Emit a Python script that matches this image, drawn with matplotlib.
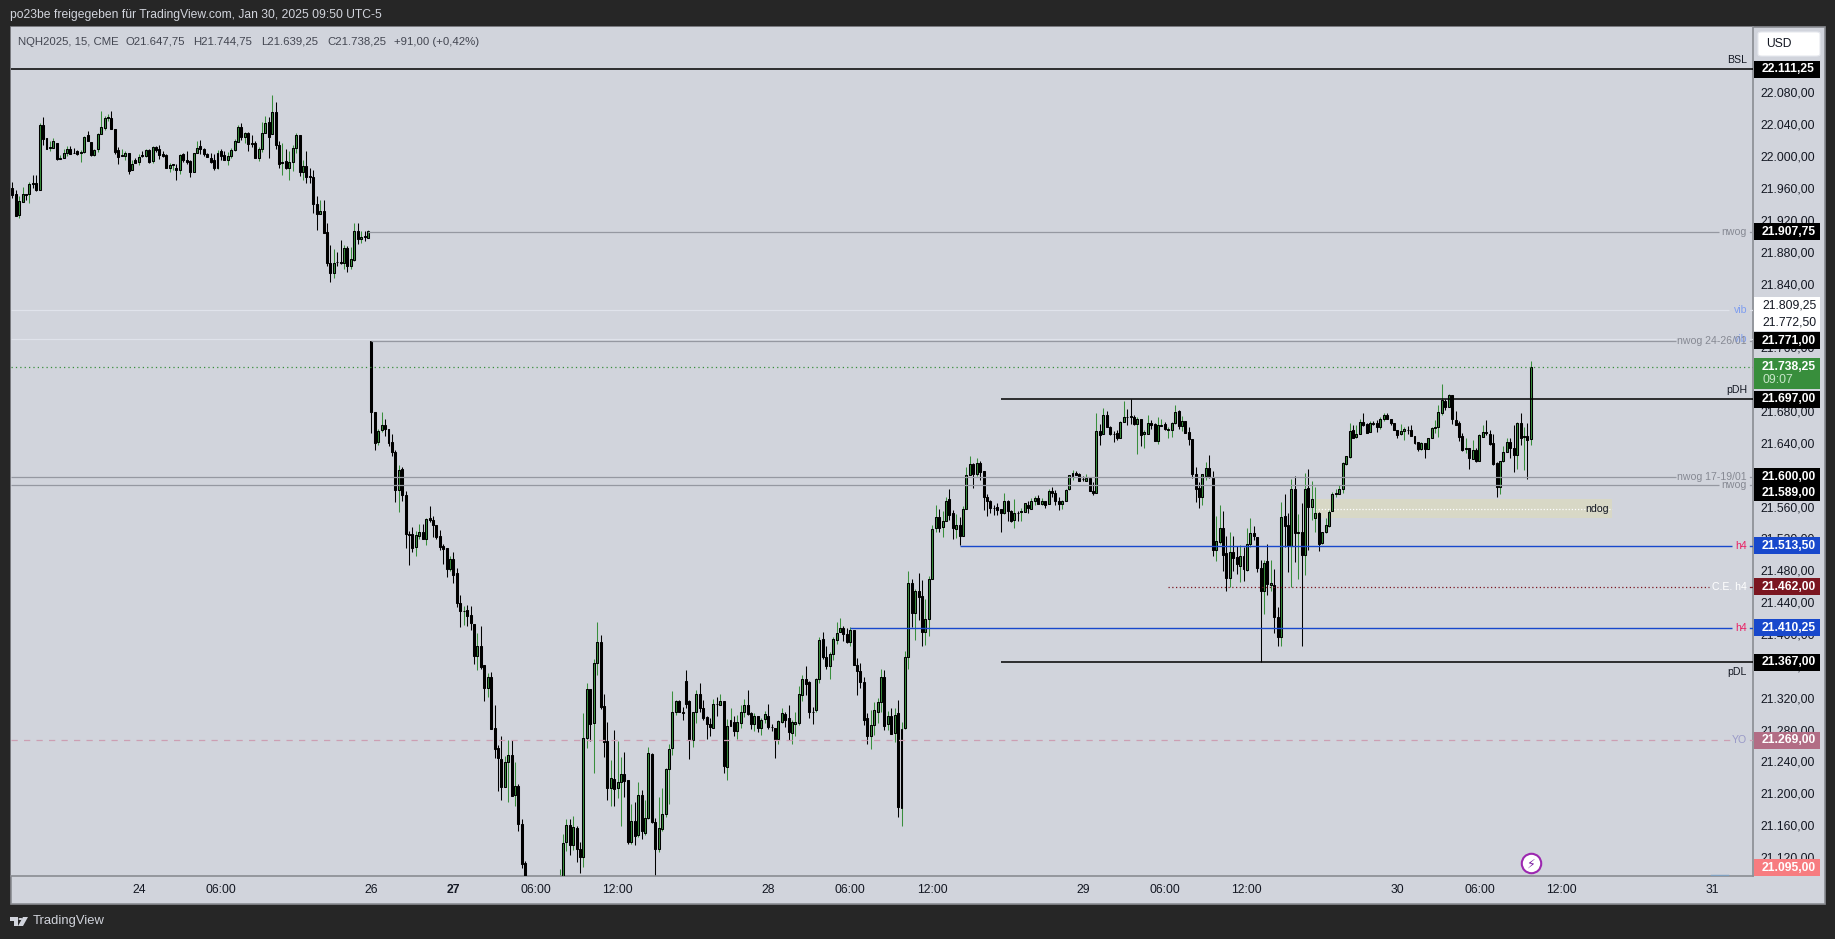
import matplotlib
matplotlib.use('Agg')
import matplotlib.pyplot as plt
from matplotlib.patches import Rectangle, FancyBboxPatch, Polygon, Circle
from matplotlib.transforms import ScaledTranslation
import numpy as np

plt.rcParams['font.family'] = ['Liberation Sans', 'DejaVu Sans']

# Sesion del 24 (NQH2025, velas de 15 min)
opens_a = [21963,21955,21928,21945,21955,21955,21969,21969,21960,22042,
22025,22013,22013,22019,21999,22000,22007,22011,22007,22009,
22006,22008,22029,22020,22004,22011,22030,22038,22050,22050,
22037,22010,22003,22003,22007,21985,21997,21995,22004,22003,
22010,21996,22014,22011,22005,22004,21988,21991,21988,21985,
22005,21997,21996,21983,22006,
22015,22011,22005,22000,21998,21988,22009,22004,21998,22003,
22010,22020,22039,22027,22031,22019,22019,22000,22011,22032,
22045,22030,22058,22017,21994,21996,21987,21995,22013,22029,
21983,21990,21977,21976,21942,21930,21934,21907,21868,21856,
21869,21869,21868,21887,21864,21872,21908,21899,21902,21900]
highs_a = [21970,21960,21952,21964,21955,21970,21979,21979,22044,22051,
22025,22021,22025,22019,22004,22012,22015,22015,22013,22010,
22010,22028,22034,22020,22012,22031,22059,22053,22055,22059,
22037,22014,22011,22009,22007,21998,22000,22005,22009,22011,
22011,22015,22015,22016,22009,22005,21994,21993,21993,22005,
22006,22009,21998,22007,22021,
22023,22013,22006,22006,22005,22010,22012,22009,22008,22013,
22024,22042,22044,22033,22033,22029,22021,22014,22045,22053,
22052,22079,22070,22021,22019,22011,22009,22016,22032,22029,
21998,22009,21988,21985,21953,21948,21948,21918,21891,21886,
21882,21897,21891,21890,21888,21919,21919,21908,21908,21910]
lows_a = [21950,21927,21925,21945,21947,21944,21962,21959,21960,22016,
22012,22009,22013,21997,21999,22000,22003,22005,22006,22004,
21995,22006,22021,22003,22003,22008,22030,22035,22047,22037,
22005,21992,22003,21998,21980,21985,21994,21991,22002,22002,
21994,21994,22008,21999,22001,21988,21983,21985,21973,21980,
21995,21993,21976,21982,22006,
22005,22003,22001,21994,21985,21986,21997,21997,21991,22000,
22009,22020,22023,22019,22009,22014,22000,21996,22008,22032,
22000,22030,22011,21988,21979,21986,21972,21984,22006,21977,
21973,21969,21969,21931,21910,21930,21906,21864,21845,21849,
21864,21867,21861,21857,21861,21871,21892,21894,21896,21900]
closes_a = [21954,21927,21946,21955,21954,21968,21968,21960,22042,22024,
22012,22014,22022,21999,22000,22007,22011,22005,22007,22005,
22008,22027,22021,22004,22010,22030,22039,22050,22051,22037,
22008,22002,22004,22007,21984,21993,21994,22002,22003,22010,
21995,22014,22010,22004,22003,21988,21991,21992,21985,22004,
21997,21995,21983,22006,22013,
22011,22005,22001,21995,21988,22007,22003,21998,22003,22010,
22021,22039,22027,22032,22018,22018,22000,22011,22032,22044,
22027,22058,22017,21993,21995,21987,21995,22013,22029,21983,
21990,21976,21976,21942,21930,21934,21906,21868,21856,21868,
21869,21868,21887,21864,21873,21908,21899,21901,21901,21908]

# Sesion 26-27 (incluye las velas que quedan bajo el borde inferior)
opens_b = [21771,21681,21643,21659,21665,21660,21643,21631,21583,21610,
21577,21528,21528,21512,21526,21530,21522,21548,21546,21540,
21525,21513,21511,21484,21497,21479,21442,21431,21433,21427,
21415,21375,21388,21363,21335,21348,21285,21260,21246,21211,
21242,21250,21200,21212,21164,21115,
21070,21060,21050,21055,21048,21052,21060,21058,21065,
21070,21085,21141,21163,21138,21159,21133,21122,21272,21334,
21291,21366,21393,21312,21268,21209,21220,21209,21217,21227,
21219,21141]
highs_b = [21771,21681,21660,21681,21673,21660,21653,21633,21615,21612,
21582,21532,21537,21532,21541,21541,21548,21563,21551,21540,
21533,21516,21511,21500,21506,21486,21452,21438,21439,21438,
21415,21404,21412,21363,21354,21355,21313,21263,21275,21249,
21269,21269,21242,21214,21170,21118,
21085,21075,21065,21070,21060,21070,21075,21072,21080,
21107,21152,21170,21170,21174,21161,21142,21303,21341,21334,
21371,21418,21401,21327,21292,21244,21282,21268,21248,21255,
21219,21189]
lows_b = [21655,21634,21640,21656,21651,21639,21626,21568,21556,21569,
21511,21489,21506,21500,21522,21522,21514,21543,21524,21522,
21508,21490,21474,21482,21466,21437,21411,21414,21412,21408,
21365,21357,21359,21318,21324,21283,21247,21205,21194,21210,
21191,21199,21186,21155,21109,21060,
21055,21045,21040,21045,21040,21045,21050,21050,21055,
21060,21080,21130,21125,21131,21116,21103,21110,21260,21268,
21228,21351,21308,21248,21194,21187,21186,21197,21162,21198,
21139,21139]
closes_b = [21681,21642,21658,21665,21660,21642,21631,21583,21609,21577,
21528,21527,21510,21527,21531,21522,21547,21546,21539,21524,
21512,21509,21484,21497,21477,21441,21431,21432,21425,21416,
21375,21388,21361,21335,21348,21283,21258,21247,21211,21242,
21251,21199,21212,21164,21114,21070,
21060,21050,21055,21048,21052,21060,21058,21065,21070,
21085,21140,21163,21138,21160,21132,21122,21272,21334,21290,
21366,21393,21311,21267,21209,21222,21208,21217,21227,21218,
21141,21168]

# Sesion 27-28
opens_c = [21168,21150,21201,21153,21172,21252,21167,21133,21158,21177,
21233,21259,21304,21318,21304,21344,21318,21269,21305,21327,
21309,21298,21290,21285,21315,21313,21318,21236,21287,21292,
21281,21291,21305,21314,21303,21289,21299,21285,21296,21300,
21286,21284,21271,21292,21302,21297,21278,21289,21291,21326,
21346,21342,21305,21307,21346,21396,21374,21362,21377,21395,
21405,21410,21403,21392,21407,21363,21356,21342,21297,21274,
21288,21305,21317,21349,21289,21300,21278,21303,21184,21285]
highs_c = [21192,21217,21207,21194,21261,21253,21171,21198,21209,21234,
21265,21331,21320,21320,21311,21357,21320,21305,21332,21341,
21320,21300,21297,21321,21323,21327,21318,21296,21310,21300,
21301,21314,21321,21332,21305,21303,21300,21297,21306,21315,
21289,21284,21295,21310,21305,21313,21295,21305,21337,21351,
21362,21343,21311,21347,21399,21405,21387,21380,21399,21418,
21423,21412,21410,21411,21408,21373,21366,21348,21303,21307,
21317,21322,21358,21357,21306,21310,21310,21320,21292,21381]
lows_c = [21138,21148,21145,21150,21170,21165,21098,21129,21155,21173,
21189,21251,21301,21304,21294,21309,21246,21261,21291,21304,
21294,21271,21274,21285,21300,21313,21228,21219,21287,21274,
21271,21285,21298,21301,21283,21281,21279,21276,21291,21283,
21281,21247,21265,21291,21286,21270,21264,21274,21288,21318,
21326,21297,21289,21305,21341,21371,21359,21346,21370,21390,
21405,21394,21391,21387,21363,21326,21335,21288,21264,21258,
21276,21291,21304,21282,21282,21277,21267,21173,21161,21283]
closes_c = [21149,21201,21155,21172,21253,21167,21133,21159,21177,21233,
21258,21304,21318,21304,21303,21315,21269,21305,21327,21309,
21297,21289,21286,21315,21315,21319,21237,21287,21294,21281,
21292,21305,21314,21302,21290,21300,21285,21295,21302,21286,
21286,21270,21293,21303,21295,21279,21292,21292,21327,21346,
21340,21304,21304,21346,21395,21374,21362,21377,21396,21404,
21410,21403,21392,21408,21363,21356,21342,21295,21275,21288,
21307,21317,21349,21287,21300,21277,21301,21185,21283,21374]

# Sesion 28-29
opens_d = [21374,21467,21429,21456,21450,21405,21421,21472,21535,21550,
21537,21545,21572,21554,21534,21540,21526,21559,21602,21616,
21604,21617,21607,21575,21570,21561,21562,21559,21554,21570,
21557,21546,21555,21556,21556,21565,21560,21570,21573,21566,
21569,21566,21582,21579,21570,21566,21570,21584,21601,21605,
21604,21597,21595,21599,21582,21580,21657,21654,21677,21663,
21654,21655,21648,21669,21675,21676,21675,21666,21672,21653,
21654,21668,21666,21645,21664,21666,21659,21659,21667,21682,
21664,21670,21656,21647,21603,21586,21575,21601,21611,21599,
21508]
highs_d = [21481,21472,21459,21479,21470,21447,21475,21540,21564,21560,
21557,21574,21585,21558,21553,21550,21563,21612,21626,21617,
21623,21620,21607,21578,21571,21564,21567,21559,21580,21571,
21558,21572,21557,21561,21567,21569,21573,21576,21577,21573,
21569,21584,21587,21583,21574,21571,21585,21602,21609,21607,
21605,21601,21603,21599,21593,21680,21666,21686,21682,21664,
21657,21659,21670,21695,21685,21697,21677,21675,21673,21659,
21678,21671,21667,21675,21672,21669,21662,21669,21690,21684,
21676,21670,21662,21647,21612,21593,21604,21619,21627,21607,
21551]
lows_d = [21359,21411,21395,21420,21387,21389,21400,21472,21531,21531,
21524,21545,21546,21522,21523,21514,21526,21559,21602,21586,
21601,21596,21558,21551,21555,21552,21552,21531,21553,21545,
21543,21536,21544,21544,21556,21555,21560,21564,21566,21564,
21561,21566,21575,21564,21558,21560,21570,21583,21596,21602,
21595,21594,21595,21582,21577,21580,21640,21653,21662,21652,
21643,21646,21648,21669,21665,21666,21665,21629,21639,21636,
21654,21660,21645,21641,21664,21659,21648,21650,21666,21660,
21657,21655,21640,21598,21568,21561,21564,21596,21598,21500,
21494]
closes_d = [21467,21429,21456,21449,21405,21421,21472,21534,21549,21536,
21545,21570,21552,21535,21540,21526,21559,21602,21616,21603,
21617,21606,21575,21570,21561,21561,21558,21554,21570,21557,
21545,21554,21555,21557,21567,21561,21570,21573,21566,21569,
21565,21582,21579,21570,21566,21569,21583,21602,21605,21602,
21595,21597,21599,21582,21580,21657,21652,21678,21663,21653,
21654,21649,21669,21675,21675,21675,21666,21673,21652,21656,
21668,21665,21645,21665,21665,21660,21660,21667,21681,21664,
21670,21655,21647,21603,21585,21575,21603,21611,21600,21508,
21519]

# Sesion 29-30
opens_e = [21518,21536,21504,21473,21506,21499,21488,21500,21483,21515,
21529,21524,21485,21457,21494,21464,21464,21424,21399,21551,
21539,21513,21585,21529,21531,21502,21586,21562,21548,21554,
21517,21530,21538,21557,21578,21578,21584,21616,21625,21659,
21650,21654,21669,21666,21656,21668,21667,21663,21673,21678,
21672,21667,21659,21653,21657,21659,21659,21651,21643,21635,
21642,21635,21649,21661,21662,21680,21695,21688,21702,21671,
21668,21651,21635,21636,21622,21633,21620,21650,21656,21654,
21642,21617,21587,21620,21631,21644,21636,21627,21668,21650,
21651,21647.75]
highs_e = [21564,21557,21525,21531,21525,21513,21514,21512,21536,21548,
21538,21524,21495,21495,21516,21495,21484,21437,21568,21578,
21555,21597,21601,21553,21567,21605,21610,21595,21587,21556,
21531,21548,21558,21581,21585,21589,21618,21626,21667,21665,
21665,21673,21680,21667,21670,21670,21671,21675,21680,21680,
21672,21667,21659,21666,21662,21664,21665,21651,21643,21643,
21642,21649,21662,21671,21690,21716,21698,21704,21703,21682,
21670,21655,21648,21636,21646,21636,21654,21665,21671,21659,
21654,21618,21620,21638,21648,21649,21665,21669,21680,21663,
21668,21744.75]
lows_e = [21515,21481,21457,21461,21481,21478,21468,21469,21481,21512,
21520,21480,21367,21428,21451,21457,21404,21387,21387,21512,
21480,21462,21493,21472,21388,21477,21508,21546,21531,21507,
21516,21529,21537,21557,21574,21578,21580,21615,21623,21648,
21649,21654,21664,21655,21656,21665,21656,21660,21670,21672,
21665,21659,21649,21652,21646,21654,21651,21641,21632,21633,
21623,21635,21648,21655,21650,21677,21684,21688,21666,21665,
21645,21632,21630,21610,21622,21619,21620,21650,21652,21640,
21615,21574,21578,21619,21631,21624,21606,21610,21640,21608,
21597,21639.25]
closes_e = [21536,21502,21473,21506,21498,21490,21500,21484,21515,21529,
21525,21485,21457,21492,21465,21467,21424,21399,21550,21538,
21513,21584,21529,21530,21502,21585,21562,21572,21554,21516,
21530,21539,21556,21578,21579,21585,21617,21626,21658,21649,
21654,21669,21665,21655,21668,21666,21662,21673,21678,21672,
21667,21659,21652,21657,21660,21659,21651,21642,21635,21642,
21635,21649,21661,21662,21681,21696,21687,21702,21672,21665,
21650,21633,21636,21623,21633,21620,21652,21656,21655,21641,
21616,21587,21620,21631,21643,21636,21627,21668,21649,21651,
21646,21738.25]

tick_prices = [21120,21160,21200,21240,21280,21320,21360,21400,21440,21480,21520,21560,
               21600,21640,21680,21720,21760,21800,21840,21880,21920,21960,22000,22040,22080]
time_ticks = [37,61,105,129,153,177,221,245,269,313,337,361,405,429,453,497]
time_labels = ['24','06:00','26','27','06:00','12:00','28','06:00','12:00','29','06:00','12:00','30','06:00','12:00','31']

# Niveles: precio real y precio donde se dibuja la etiqueta del eje
level_prices = [22111.25,21907.75,21809.25,21772.50,21771.00,21738.25,21697.00,21600.00,
                21589.00,21513.50,21462.00,21410.25,21367.00,21269.00,21095.00]
level_shown = [22111.25,21907.75,21814.7,21793.4,21771.00,21738.25,21697.00,21600.00,
               21580.0,21513.50,21462.00,21410.25,21367.00,21269.00,21108.9]
level_box = ['black','black','white','white','black','#388e3c','black','black',
             'black','#1848cc','#7b1620','#1848cc','black','#b26d85','#f77c80']

W, H = 1835, 939
BG = '#262626'
PANEL = '#d1d4dc'
EDGE = '#8a8c92'
TXT = '#131722'
PT_PX = 1.2555   # puntos de precio por pixel


def px(x):
    # pixel horizontal de la imagen -> indice de vela
    return (x - 12.3) / 3.42


def fmt(v):
    return f'{v:,.2f}'.replace(',', 'X').replace('.', ',').replace('X', '.')


fig = plt.figure(figsize=(W / 100, H / 100), dpi=100, facecolor=BG)
fig.add_artist(Rectangle((10.5 / W, 1 - 904 / H), 1814.5 / W, 877 / H, transform=fig.transFigure,
                         facecolor=PANEL, edgecolor=EDGE, linewidth=1.2, zorder=-1))

ax = fig.add_axes([11 / W, 1 - 876 / H, 1742 / W, 849 / H], facecolor=PANEL)
ax.set_xlim(px(11), px(1753))
ax.set_ylim(21098.7, 22164.6)
for s in ['top', 'left']:
    ax.spines[s].set_visible(False)
for s in ['bottom', 'right']:
    ax.spines[s].set_color(EDGE)
    ax.spines[s].set_linewidth(1.2)

opens = np.array(opens_a + opens_b + opens_c + opens_d + opens_e)
highs = np.array(highs_a + highs_b + highs_c + highs_d + highs_e)
lows = np.array(lows_a + lows_b + lows_c + lows_d + lows_e)
closes = np.array(closes_a + closes_b + closes_c + closes_d + closes_e)
x = np.arange(len(opens))
up = closes > opens

# Velas
ax.vlines(x[up], lows[up], highs[up], color='#388e3c', linewidth=0.75, zorder=2)
ax.vlines(x[~up], lows[~up], highs[~up], color='black', linewidth=0.75, zorder=2)
bottoms = np.minimum(opens, closes)
sizes = np.abs(closes - opens)
ax.bar(x[up], sizes[up], bottom=bottoms[up], width=0.58, color='#388e3c', edgecolor='black', linewidth=0.75, zorder=3)
ax.bar(x[~up], sizes[~up], bottom=bottoms[~up], width=0.58, color='black', edgecolor='black', linewidth=0.75, zorder=3)

# Caja ndog
ax.add_patch(Rectangle((px(1315), 21548), px(1612) - px(1315), 24, facecolor='#d8d8c6', edgecolor='none', zorder=1))
ax.plot([px(1315), px(1612)], [21560, 21560], color='white', linestyle=(0, (1, 1.5)), linewidth=0.9, zorder=1.5)
ax.text(px(1609), 21560, 'ndog', ha='right', va='center', fontsize=7.6, color=TXT, zorder=5)

# Lineas de nivel
end = px(1753)
right_label = px(1747)
gray = '#9598a1'


def nivel(price, x0, x1, color, lw=1.0, ls='-', label=None, lcolor=None, above=None):
    ax.plot([x0, x1], [price, price], color=color, linewidth=lw, linestyle=ls, zorder=4, solid_capstyle='butt')
    if label:
        if above is None:
            ax.text(right_label, price, label, ha='right', va='center', fontsize=7.6, color=lcolor, zorder=5)
            ax.plot([px(1750), end], [price, price], color=color, linewidth=lw, zorder=4)
        else:
            off = 9 * PT_PX if above else -10 * PT_PX
            ax.text(right_label, price + off, label, ha='right', va='center', fontsize=7.6, color=lcolor, zorder=5)


nivel(22111.25, px(11), end, 'black', 1.1, label='BSL', lcolor=TXT, above=True)
nivel(21907.75, 104, px(1719), gray, 0.9, label='nwog', lcolor='#868993')
nivel(21809.25, px(11), px(1729), '#e0e3eb', 0.9, label='vib', lcolor='#7f9ef0')
nivel(21772.50, px(11), px(1676), '#e0e3eb', 0.9, label='vib', lcolor='#7f9ef0')
nivel(21771.00, 105, px(1676), gray, 0.9, label='nwog 24-26/01', lcolor='#868993')
ax.plot([px(11), end], [21738.25, 21738.25], color='#388e3c', linestyle=(0, (1, 2.5)), linewidth=0.9, zorder=4)
nivel(21697.00, px(1000.5), end, 'black', 1.1, label='pDH', lcolor=TXT, above=True)
nivel(21600.00, px(11), px(1676), gray, 0.9, label='nwog 17-19/01', lcolor='#868993')
nivel(21589.00, px(11), px(1719), gray, 0.9, label='nwog', lcolor='#868993')
nivel(21513.50, px(959.5), px(1732), '#1848cc', 1.0, label='h4', lcolor='#e91e63')
nivel(21462.00, px(1168), px(1709), '#7b1620', 0.9, ls=(0, (1, 2)), label='C.E. h4', lcolor='white')
nivel(21410.25, px(850), px(1732), '#1848cc', 1.0, label='h4', lcolor='#e91e63')
nivel(21367.00, px(1000.5), end, 'black', 1.1, label='pDL', lcolor=TXT, above=False)
nivel(21269.00, px(11), px(1730), '#cc9fb3', 0.9, ls=(0, (5, 5)), label='YO', lcolor='#9a9ac8')
ax.plot([px(1711), px(1728)], [21099.5, 21099.5], color='#7fa0c0', linewidth=1, zorder=4)

# Ejes con sus etiquetas
ax.yaxis.tick_right()
ax.set_yticks(tick_prices)
ax.set_yticklabels([fmt(v) for v in tick_prices])
ax.tick_params(axis='y', length=0, pad=5, labelsize=8.7, labelcolor=TXT)
subir = ScaledTranslation(0, 2 / 100, fig.dpi_scale_trans)
for t in ax.get_yticklabels():
    t.set_transform(t.get_transform() + subir)
ax.set_xticks(time_ticks)
ax.set_xticklabels(time_labels)
ax.tick_params(axis='x', length=0, pad=6, labelsize=8.7, labelcolor=TXT)
ax.get_xticklabels()[3].set_fontweight('bold')

# Rayo
ax.plot([px(1531)], [21115], marker='o', markersize=14, markerfacecolor='white',
        markeredgecolor='#9c27b0', markeredgewidth=1.5, zorder=6, clip_on=False)
ax.text(px(1531), 21114, '\u26a1', ha='center', va='center', fontsize=9, color='#7b1fa2',
        family=['DejaVu Sans'], zorder=7)

# Escala de precios: etiquetas sobre el eje
ar = fig.add_axes([1753 / W, 1 - 876 / H, 72 / W, 849 / H], facecolor='none')
ar.set_xlim(0, 72)
ar.set_ylim(ax.get_ylim())
ar.axis('off')
for price, shown, col in zip(level_prices, level_shown, level_box):
    h = 17 * PT_PX
    if col == '#388e3c':
        ar.add_patch(Rectangle((1, shown - 22 * PT_PX), 66, 31 * PT_PX, facecolor=col, edgecolor='none', clip_on=False))
        ar.text(9, shown, fmt(price), ha='left', va='center', fontsize=8.7, color='white', fontweight='bold', clip_on=False)
        ar.text(9, shown - 13.5 * PT_PX, '09:07', ha='left', va='center', fontsize=8.7, color='#c8e6c9', clip_on=False)
    else:
        ar.add_patch(Rectangle((1, shown - h / 2), 66, h, facecolor=col, edgecolor='none', clip_on=False))
        tc = TXT if col == 'white' else 'white'
        fw = 'normal' if col == 'white' else 'bold'
        ar.text(9, shown, fmt(price), ha='left', va='center', fontsize=8.7, color=tc, fontweight=fw, clip_on=False)

# Caja USD
fig.add_artist(FancyBboxPatch((1758 / W, 1 - 56 / H), 62 / W, 24 / H, boxstyle='round,pad=0,rounding_size=0.002',
                              transform=fig.transFigure, facecolor='white', edgecolor='#e6e8ee', linewidth=0.8))
fig.text(1766 / W, 1 - 44 / H, 'USD', ha='left', va='center', fontsize=8.7, color=TXT)

# Textos de cabecera
fig.text(10 / W, 1 - 15 / H, 'po23be freigegeben für TradingView.com, Jan 30, 2025 09:50 UTC-5',
         ha='left', va='center', fontsize=8.7, color='#d1d4dc')
legend_parts = [(18, 'NQH2025, 15, CME'), (125, 'O21.647,75'), (193, 'H21.744,75'),
                (261, 'L21.639,25'), (327, 'C21.738,25'), (394, '+91,00 (+0,42%)')]
for lx, t in legend_parts:
    fig.text(lx / W, 1 - 42 / H, t, ha='left', va='center', fontsize=8.2, color='#434651')

# Logo y marca
fig.add_artist(Rectangle((10 / W, 1 - 921 / H), 8 / W, 4 / H, transform=fig.transFigure, facecolor='#d1d4dc', edgecolor='none'))
fig.add_artist(Rectangle((14 / W, 1 - 926 / H), 4 / W, 9 / H, transform=fig.transFigure, facecolor='#d1d4dc', edgecolor='none'))
fig.add_artist(Circle((20.5 / W, 1 - 919 / H), 0.0011, transform=fig.transFigure, facecolor='#d1d4dc', edgecolor='none'))
fig.add_artist(Polygon([(23 / W, 1 - 917 / H), (28 / W, 1 - 917 / H), (23 / W, 1 - 926 / H), (18 / W, 1 - 926 / H)],
                       transform=fig.transFigure, facecolor='#d1d4dc', edgecolor='none'))
fig.text(33 / W, 1 - 921 / H, 'TradingView', ha='left', va='center', fontsize=9.4, color='#d1d4dc')

plt.savefig('out.png', dpi=100, facecolor=BG)
